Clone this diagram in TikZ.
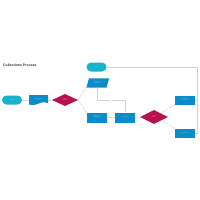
\documentclass[tikz,border=0pt]{standalone}
\usepackage{fontspec}
\setmainfont{Liberation Sans}
\usetikzlibrary{shapes.geometric,arrows.meta}
\definecolor{cteal}{HTML}{19B2CB}
\definecolor{cblue}{HTML}{0A8CC8}
\definecolor{ccrim}{HTML}{B8124E}
\definecolor{cline}{HTML}{D2D2D2}
\definecolor{ctitle}{HTML}{333333}
\tikzset{
  txt/.style={font=\fontsize{2.6pt}{3pt}\selectfont, text=white, align=center},
  term/.style={txt, fill=cteal, rounded corners=4.5mm, minimum width=20mm, minimum height=9mm, inner sep=0pt},
  box/.style={txt, fill=cblue, minimum width=20mm, minimum height=10mm, inner sep=0pt, text width=18mm},
  dec/.style={txt, diamond, fill=ccrim, aspect=2.2, inner sep=0pt, text width=11mm},
  conn/.style={draw=cline, line width=0.4mm, -{Stealth[length=1.5mm,width=1.3mm]}},
  lbl/.style={font=\fontsize{2.4pt}{3pt}\selectfont, text=gray, fill=white, inner sep=0.3mm}
}
\begin{document}
\begin{tikzpicture}[x=1mm,y=-1mm]
\useasboundingbox (0,0) rectangle (200,200);
\fill[white] (0,0) rectangle (200,200);
\node[anchor=west, font=\bfseries\fontsize{10pt}{11pt}\selectfont, text=ctitle, inner sep=0pt] (title) at (3,65) {Collections Process};
% nodes
\node[term] (start) at (12,100) {Collections};
\fill[cblue] (29,95) -- (48,95) -- (48,103.3)
  .. controls (44.5,101.8) and (42,102.2) .. (38.5,103.6)
  .. controls (35,105) and (32,105.6) .. (29,104.6) -- cycle;
\node[txt, minimum width=19mm, minimum height=8mm, inner sep=0pt, text width=17mm] (doc) at (38.5,99.3) {Send Collections\\Letter};
\node[dec, minimum width=26mm, minimum height=12mm] (d1) at (65,100) {Payment\\Received?};
\node[term] (end) at (96.5,67) {End};
\node[txt, minimum width=20mm, minimum height=9mm, inner sep=0pt, text width=18mm] (para) at (97.5,83) {Record Payment \&\\Update Account};
\fill[cblue] ([xshift=1.5mm]para.north west) -- ([xshift=1.5mm]para.north east) -- ([xshift=-1mm]para.south east) -- ([xshift=-1mm]para.south west) -- cycle;
\node[txt, text width=18mm] at (para) {Record Payment \&\\Update Account};
\node[box] (b1) at (96.5,117.5) {Call Customer \&\\Negotiate Payment\\Plan};
\node[box] (b2) at (125,117.5) {Send Final Notice};
\node[dec, minimum width=28mm, minimum height=14mm] (d2) at (154,117) {Payment\\Received?};
\node[box, minimum height=9mm] (b3) at (185,100) {Refer to Collection\\Agency};
\node[box, minimum height=9mm] (b4) at (185,133) {Write Off Account};
% connectors
\draw[conn] (start) -- (doc.west |- start);
\draw[conn] (doc.east |- d1) -- (d1.west);
\draw[conn] (d1.east) -- node[lbl, pos=0.5] {Yes} ([xshift=-1mm,yshift=1mm]para.south west);
\draw[conn] (d1.east) -- node[lbl, pos=0.5] {No} (b1.north west);
\draw[conn] (b2.north) -- (b2.north |- 0,100) -- node[lbl] {Yes} (para.south |- 0,100) -- (para.south);
\draw[conn] (b1) -- (b2);
\draw[conn] (b2) -- (d2);
\draw[conn] (d2.north east) -- node[lbl] {No} (b3.south west);
\draw[conn] (d2.south east) -- node[lbl] {Yes} (b4.north west);
\coordinate (rr) at (197.5,67);
\draw[conn] (b3.east) -- (b3.east -| rr) -- (rr) -- (end.east);
\draw[draw=cline, line width=0.4mm] (b4.east) -- (b4.east -| rr) -- (b3.east -| rr);
\end{tikzpicture}
\end{document}
